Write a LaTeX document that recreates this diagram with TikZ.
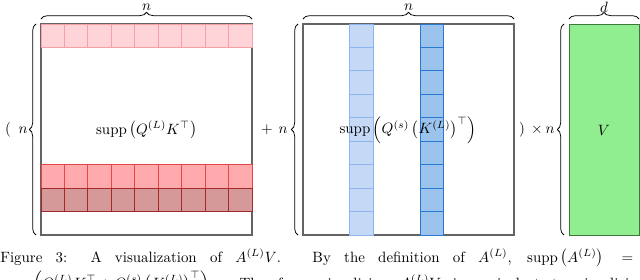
\documentclass[tikz,border=0pt]{standalone}
\usepackage{amsmath}
\usetikzlibrary{decorations.pathreplacing}
\definecolor{pinkfill}{RGB}{255,212,216}
\definecolor{pinkdraw}{RGB}{248,160,165}
\definecolor{redfill}{RGB}{255,170,172}
\definecolor{reddraw}{RGB}{232,70,70}
\definecolor{darkfill}{RGB}{213,153,153}
\definecolor{darkdraw}{RGB}{165,40,40}
\definecolor{lbluefill}{RGB}{197,216,246}
\definecolor{lbluedraw}{RGB}{140,180,238}
\definecolor{dbluefill}{RGB}{155,195,235}
\definecolor{dbluedraw}{RGB}{40,120,215}
\definecolor{vfill}{RGB}{144,238,144}
\definecolor{vdraw}{RGB}{60,120,60}
\definecolor{boxdraw}{RGB}{100,100,100}
\tikzset{
  matbox/.style={draw=boxdraw, line width=0.7pt},
  cellA/.style={fill=pinkfill, draw=pinkdraw, line width=0.6pt},
  cellB/.style={fill=redfill, draw=reddraw, line width=0.6pt},
  cellC/.style={fill=darkfill, draw=darkdraw, line width=0.6pt},
  cellD/.style={fill=lbluefill, draw=lbluedraw, line width=0.6pt},
  cellE/.style={fill=dbluefill, draw=dbluedraw, line width=0.6pt},
  vbox/.style={fill=vfill, draw=vdraw, line width=0.6pt},
  brc/.style={decorate, decoration={brace, amplitude=4.5pt}, line width=0.5pt},
  lbl/.style={inner sep=0pt}
}
\begin{document}
\begin{tikzpicture}[x=0.67pt,y=-0.67pt]
\useasboundingbox (0,0) rectangle (640,280);
\clip (0,0) rectangle (640,280);
\def\cw{23.44}
% left matrix
\draw[matbox] (41,24) rectangle (252,235);
\foreach \i in {0,...,8} {
  \draw[cellA] (41+\i*\cw,24) rectangle ++(\cw,\cw);
  \draw[cellB] (41+\i*\cw,24+6*\cw) rectangle ++(\cw,\cw);
  \draw[cellC] (41+\i*\cw,24+7*\cw) rectangle ++(\cw,\cw);
}
% middle matrix
\draw[matbox] (303,24) rectangle (514,235);
\foreach \j in {0,...,8} {
  \draw[cellD] (303+2*\cw,24+\j*\cw) rectangle ++(\cw,\cw);
  \draw[cellE] (303+5*\cw,24+\j*\cw) rectangle ++(\cw,\cw);
}
% V
\draw[vbox] (569,24) rectangle (639,235);

% labels inside
\node[lbl] (lA) at (146.5,130) {$\operatorname{supp}\left(Q^{(L)}K^{\top}\right)$};
\node[lbl] (lB) at (408,130) {$\operatorname{supp}\left(Q^{(s)}\left(K^{(L)}\right)^{\top}\right)$};
\node[lbl] (lV) at (604,130) {$V$};

% braces
\coordinate (tA1) at (41,19); \coordinate (tA2) at (252,19);
\coordinate (tB1) at (303,19); \coordinate (tB2) at (514,19);
\coordinate (tV1) at (569,19); \coordinate (tV2) at (639,19);
\coordinate (sA1) at (36,235); \coordinate (sA2) at (36,24);
\coordinate (sB1) at (298,235); \coordinate (sB2) at (298,24);
\coordinate (sV1) at (564,235); \coordinate (sV2) at (564,24);
\draw[brc] (tA1) -- (tA2);
\draw[brc] (tB1) -- (tB2);
\draw[brc] (tV1) -- (tV2);
\draw[brc] (sA1) -- (sA2);
\draw[brc] (sB1) -- (sB2);
\draw[brc] (sV1) -- (sV2);
\node[lbl] (nA) at (146.5,7) {$n$};
\node[lbl] (nB) at (408.5,7) {$n$};
\node[lbl] (nV) at (604,7) {$d$};
\node[lbl] (po) at (8,130) {$($};
\node[lbl] (n1) at (23,130) {$n$};
\node[lbl] (pl) at (267,130) {$+$};
\node[lbl] (n2) at (283,130) {$n$};
\node[lbl] (pc) at (522,130) {$)$};
\node[lbl] (ti) at (537,130) {$\times$};
\node[lbl] (n3) at (550,130) {$n$};

% caption
\node[lbl, anchor=base west] (cap1) at (0,262) {\hbox to 424pt{Figure 3: A visualization of $A^{(L)}V$. By the definition of $A^{(L)}$, $\operatorname{supp}\left(A^{(L)}\right) =$}};
\node[lbl, anchor=base west] (cap2) at (0,288) {\hbox to 432pt{$\operatorname{supp}\left(Q^{(L)}K^{\top} + Q^{(s)}\left(K^{(L)}\right)^{\top}\right)$. Therefore, visualizing $A^{(L)}V$ is equivalent to visualizing}};
\end{tikzpicture}
\end{document}
